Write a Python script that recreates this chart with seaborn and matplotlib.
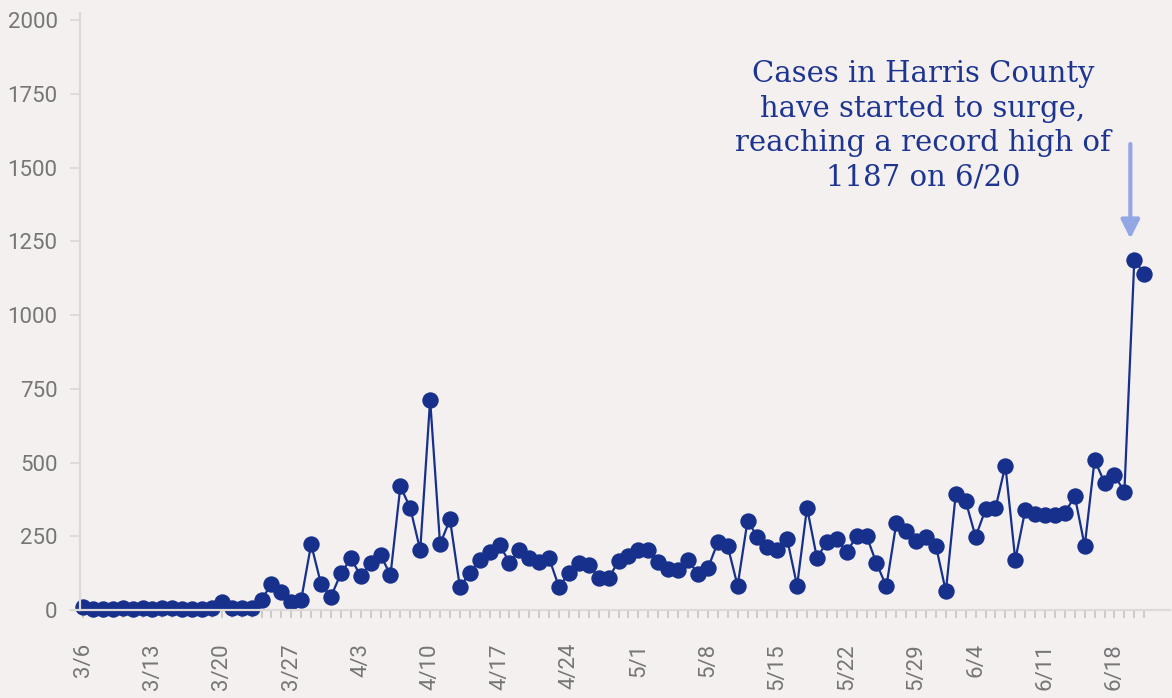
import matplotlib
matplotlib.use("Agg")
import matplotlib.pyplot as plt
from matplotlib.lines import Line2D
import pandas as pd
import seaborn as sns

# daily new cases, 3/6 - 6/21
dates = pd.date_range("2020-03-06", "2020-06-21", freq="D")
march = [10, 5, 5, 5, 6, 5, 6, 5, 6, 8, 5, 5, 5, 6, 26, 8, 6, 7,
         35, 88, 60, 26, 35, 223, 88, 45]
april = [124, 175, 116, 159, 187, 118, 420, 345, 203, 713, 223, 307, 77, 127, 169,
         198, 221, 161, 203, 178, 163, 175, 77, 127, 161, 153, 110, 107, 167, 183]
may = [204, 204, 164, 138, 136, 170, 122, 141, 229, 217, 82, 302, 249, 212, 203, 240,
       82, 347, 176, 231, 242, 195, 251, 251, 159, 80, 294, 268, 234, 246, 217]
june = [63, 395, 369, 248, 341, 345, 490, 170, 338, 327, 321, 321, 330, 386, 217,
        510, 431, 457, 401, 1187, 1141]
cases = march + april + may + june

tick_labels = ["3/6", "3/13", "3/20", "3/27", "4/3", "4/10", "4/17", "4/24",
               "5/1", "5/8", "5/15", "5/22", "5/29", "6/4", "6/11", "6/18"]
yticks = [0, 250, 500, 750, 1000, 1250, 1500, 1750, 2000]
note = "Cases in Harris County\nhave started to surge,\nreaching a record high of\n1187 on 6/20"

day_labels = [f"{d.month}/{d.day}" for d in dates]
df = pd.DataFrame({"day": range(len(dates)), "cases": cases})
tick_days = [day_labels.index(t) for t in tick_labels]

bg = "#f4f0ef"
blue = "#16308c"
grey_line = "#dcd9d8"
grey_text = "#767676"

sns.set_style("white")
plt.rcParams["font.family"] = ["Roboto", "DejaVu Sans"]

fig = plt.figure(figsize=(11.72, 6.98), dpi=100, facecolor=bg)
ax = fig.add_axes([0.0683, 0.1261, 0.93, 0.8553])
ax.set_facecolor(bg)

sns.lineplot(data=df, x="day", y="cases", ax=ax, color=blue, linewidth=1.6,
             marker="o", markersize=11.8, markeredgewidth=0, clip_on=False)

ax.set_xlim(-0.3, 109.6)
ax.set_ylim(0, 2025)
ax.set_xlabel("")
ax.set_ylabel("")

ax.set_yticks(yticks)
ax.set_yticklabels([str(v) for v in yticks])
ax.set_xticks(tick_days)
ax.set_xticklabels(tick_labels, rotation=90)
ax.set_xticks(range(len(dates)), minor=True)

ax.tick_params(axis="y", length=7.2, width=1.3, color=grey_line, pad=9,
               labelsize=16, labelcolor=grey_text, left=True)
ax.tick_params(axis="x", which="both", length=5.8, width=1.3, color="#c9c6c5",
               pad=18, bottom=True, direction="out")
ax.tick_params(axis="x", which="major", labelsize=16, labelcolor=grey_text)

sns.despine(ax=ax, top=True, right=True)
for side in ("left", "bottom"):
    ax.spines[side].set_color(grey_line)
    ax.spines[side].set_linewidth(1.6)

# baseline continues a little to the left of the y axis
fig.add_artist(Line2D([70 / 1172, 80 / 1172], [0.1261, 0.1261], color=grey_line, lw=1.6))

ax.annotate("", xy=(105.6, 1250), xytext=(105.6, 1590),
            arrowprops=dict(arrowstyle="-|>", color="#94a7e5", lw=3, mutation_scale=28))

fig.text(923 / 1172, 1 - 126 / 698, note, ha="center", va="center",
         fontsize=21, color="#1d3591", family="DejaVu Serif", linespacing=1.3)

fig.savefig("out.png", dpi=100, facecolor=bg)
